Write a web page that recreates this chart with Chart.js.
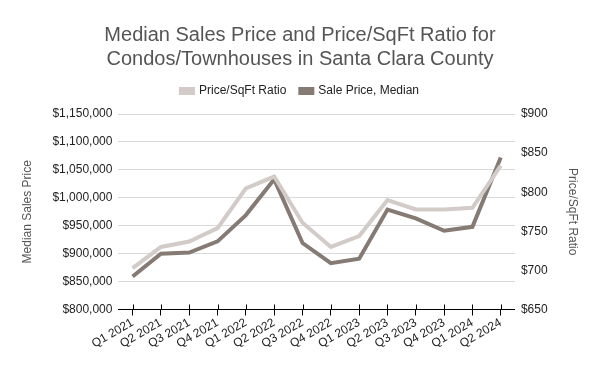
<!DOCTYPE html>
<html>
<head>
<meta charset="utf-8">
<script src="https://cdn.jsdelivr.net/npm/chart.js@4.4.0/dist/chart.umd.min.js"></script>
<style>
  body { margin: 0; background: #fff; }
  #wrap { width: 600px; height: 371px; }
</style>
</head>
<body>
<div id="wrap"><canvas id="chart"></canvas></div>
<script>
var quarters = ['Q1 2021', 'Q2 2021', 'Q3 2021', 'Q4 2021', 'Q1 2022', 'Q2 2022', 'Q3 2022',
    'Q4 2022', 'Q1 2023', 'Q2 2023', 'Q3 2023', 'Q4 2023', 'Q1 2024', 'Q2 2024'];
var pricePerSqft = [703, 730, 737, 754, 805, 820, 761, 730, 744, 790, 778, 778, 780, 834];
var medianPrice = [859000, 900000, 902000, 922000, 969000, 1033000, 919000, 883000, 891000, 979000, 963000, 941000, 948000, 1072000];

var font = 'Liberation Sans, Arial, sans-serif';

// small tick marks crossing the x axis line
var crossTicks = {
    id: 'crossTicks',
    afterDraw: function (chart) {
        var x = chart.scales.x;
        var c = chart.ctx;
        c.save();
        c.strokeStyle = '#000';
        c.lineWidth = 1;
        c.beginPath();
        for (var i = 0; i < quarters.length; i++) {
            var px = Math.round(x.getPixelForTick(i)) + 0.5;
            c.moveTo(px, x.top - 5);
            c.lineTo(px, x.top);
        }
        c.stroke();
        c.restore();
    }
};

// extra space under the legend
var legendMargin = {
    id: 'legendMargin',
    beforeInit: function (chart) {
        var fit = chart.legend.fit;
        chart.legend.fit = function () {
            fit.bind(chart.legend)();
            this.height += 7;
        };
    }
};

var ctx = document.getElementById('chart').getContext('2d');
var chart = new Chart(ctx, {
    type: 'line',
    data: {
        labels: quarters,
        datasets: [{
            label: 'Price/SqFt Ratio',
            data: pricePerSqft,
            yAxisID: 'y1',
            borderColor: '#d2cbc7',
            backgroundColor: '#d2cbc7',
            borderWidth: 4,
            pointRadius: 0,
            tension: 0
        }, {
            label: 'Sale Price, Median',
            data: medianPrice,
            yAxisID: 'y',
            borderColor: '#857b74',
            backgroundColor: '#857b74',
            borderWidth: 4,
            pointRadius: 0,
            tension: 0
        }]
    },
    options: {
        responsive: true,
        maintainAspectRatio: false,
        animation: false,
        layout: { padding: { left: 16, right: 16, top: 23, bottom: 20 } },
        plugins: {
            title: {
                display: true,
                text: ['Median Sales Price and Price/SqFt Ratio for', 'Condos/Townhouses in Santa Clara County'],
                color: '#555555',
                font: { family: font, size: 20, weight: 'normal' },
                lineHeight: 1.2,
                padding: { top: 0, bottom: 0 }
            },
            legend: {
                position: 'top',
                labels: {
                    color: '#222',
                    font: { family: font, size: 12 },
                    boxWidth: 12,
                    boxHeight: 4,
                    padding: 14
                }
            },
            tooltip: { enabled: false }
        },
        scales: {
            x: {
                offset: true,
                grid: {
                    offset: false,
                    drawOnChartArea: false,
                    color: '#000',
                    tickLength: 6,
                    tickColor: '#000'
                },
                border: { color: '#000' },
                ticks: {
                    color: '#222',
                    font: { family: font, size: 12 },
                    minRotation: 30,
                    maxRotation: 30,
                    autoSkip: false,
                    padding: 0
                }
            },
            y: {
                position: 'left',
                min: 800000,
                max: 1150000,
                grid: { color: '#d9d9d9', drawTicks: false },
                border: { display: false },
                ticks: {
                    stepSize: 50000,
                    color: '#222',
                    padding: 6,
                    font: { family: font, size: 12 },
                    callback: function (v) { return '$' + v.toLocaleString('en-US'); }
                },
                title: {
                    display: true,
                    text: 'Median Sales Price',
                    color: '#555',
                    font: { family: font, size: 12 },
                    padding: { top: 4, bottom: 12 }
                }
            },
            y1: {
                position: 'right',
                min: 650,
                max: 900,
                grid: { drawOnChartArea: false, drawTicks: false },
                border: { display: false },
                ticks: {
                    stepSize: 50,
                    color: '#222',
                    padding: 6,
                    font: { family: font, size: 12 },
                    callback: function (v) { return '$' + v; }
                },
                title: {
                    display: true,
                    text: 'Price/SqFt Ratio',
                    color: '#555',
                    font: { family: font, size: 12 },
                    padding: { top: 4, bottom: 12 }
                }
            }
        }
    },
    plugins: [crossTicks, legendMargin]
});
</script>
</body>
</html>
